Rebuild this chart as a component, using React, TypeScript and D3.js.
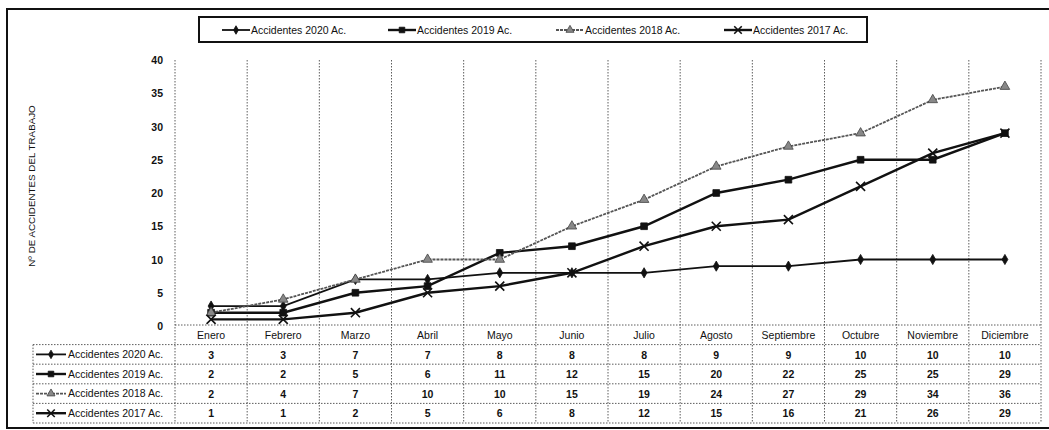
import * as d3 from 'd3';

const months = ['Enero', 'Febrero', 'Marzo', 'Abril', 'Mayo', 'Junio', 'Julio', 'Agosto', 'Septiembre', 'Octubre', 'Noviembre', 'Diciembre'];
const seriesNames = ['Accidentes 2020 Ac.', 'Accidentes 2019 Ac.', 'Accidentes 2018 Ac.', 'Accidentes 2017 Ac.'];
const acc2020 = [3, 3, 7, 7, 8, 8, 8, 9, 9, 10, 10, 10];
const acc2019 = [2, 2, 5, 6, 11, 12, 15, 20, 22, 25, 25, 29];
const acc2018 = [2, 4, 7, 10, 10, 15, 19, 24, 27, 29, 34, 36];
const acc2017 = [1, 1, 2, 5, 6, 8, 12, 15, 16, 21, 26, 29];
const yTicks = [0, 5, 10, 15, 20, 25, 30, 35, 40];

const W = 1049;
const H = 430;
const PLOT = { left: 175, right: 1041, top: 60, bottom: 325 };
const TABLE = { left: 33, rowH: 19.6 };
const FONT = '"Liberation Sans", Arial, sans-serif';

type Style = {
  name: string;
  values: number[];
  stroke: string;
  width: number;
  dash?: string;
  symbol: d3.SymbolType;
  size: number;
  fill: string;
  markStroke: string;
};

const series: Style[] = [
  { name: seriesNames[0], values: acc2020, stroke: '#111', width: 1.8, symbol: d3.symbolDiamond, size: 30, fill: '#111', markStroke: '#111' },
  { name: seriesNames[1], values: acc2019, stroke: '#111', width: 2.4, symbol: d3.symbolSquare, size: 45, fill: '#111', markStroke: '#111' },
  { name: seriesNames[2], values: acc2018, stroke: '#555', width: 1.8, dash: '3,1', symbol: d3.symbolTriangle, size: 40, fill: '#888', markStroke: '#444' },
  { name: seriesNames[3], values: acc2017, stroke: '#111', width: 2.4, symbol: d3.symbolTimes, size: 55, fill: 'none', markStroke: '#111' },
];

const Marker = ({ s, x, y }: { s: Style; x: number; y: number }) => (
  <path
    d={d3.symbol(s.symbol, s.size)() || ''}
    transform={`translate(${x},${y})`}
    fill={s.fill}
    stroke={s.markStroke}
    strokeWidth={s.symbol === d3.symbolTimes ? 1.6 : 0.8}
  />
);

const LegendKey = ({ s, x, y, len }: { s: Style; x: number; y: number; len: number }) => (
  <g>
    <line x1={x} x2={x + len} y1={y} y2={y} stroke={s.stroke} strokeWidth={s.width} strokeDasharray={s.dash} />
    <Marker s={{ ...s, size: s.size * 0.7 }} x={x + len / 2} y={y} />
  </g>
);

export default function App() {
  const x = d3.scaleBand<string>().domain(months).range([PLOT.left, PLOT.right]);
  const y = d3.scaleLinear().domain([0, 40]).range([PLOT.bottom + 1, PLOT.top]);
  const cx = (m: string) => (x(m) || 0) + x.bandwidth() / 2;
  const line = d3
    .line<number>()
    .x((_, i) => cx(months[i]))
    .y((d) => y(d));

  const rowTop = (i: number) => PLOT.bottom + TABLE.rowH * i;
  const tableBottom = rowTop(5);
  const bounds = months.map((m) => x(m) || 0).concat([PLOT.right]);
  const legendX = [222, 388, 556, 724];

  return (
    <svg width={W} height={H} style={{ position: 'absolute', left: 0, top: 0, background: '#fff' }} fontFamily={FONT}>
      <rect x={0} y={0} width={W} height={H} fill="#fff" />
      {/* outer frame */}
      <rect x={7} y={9} width={W + 10} height={419} fill="none" stroke="#111" strokeWidth={2} />

      {/* legend */}
      <rect x={199} y={17} width={668} height={25} fill="#fff" stroke="#111" strokeWidth={2} />
      {series.map((s, i) => (
        <g key={s.name}>
          <LegendKey s={s} x={legendX[i]} y={30} len={28} />
          <text x={legendX[i] + 29} y={33.5} fontSize={10.5} fill="#111">{s.name}</text>
        </g>
      ))}

      {/* y title */}
      <text transform={`translate(35,186) rotate(-90)`} textAnchor="middle" fontSize={9.8} fill="#111">
        Nº DE ACCIDENTES DEL TRABAJO
      </text>

      {/* y ticks */}
      {yTicks.map((t) => (
        <text key={t} x={163} y={y(t) + 4} textAnchor="end" fontSize={10.5} fontWeight="bold" fill="#111">
          {t}
        </text>
      ))}

      {/* vertical grid through plot and table */}
      {bounds.map((b, i) => (
        <line key={i} x1={b} x2={b} y1={PLOT.top} y2={tableBottom} stroke="#333" strokeWidth={0.8} strokeDasharray="1.5,1.5" />
      ))}
      {/* horizontal table lines */}
      <line x1={PLOT.left} x2={PLOT.right} y1={rowTop(0)} y2={rowTop(0)} stroke="#333" strokeWidth={0.8} strokeDasharray="1.5,1.5" />
      {[1, 2, 3, 4, 5].map((r) => (
        <line key={r} x1={TABLE.left} x2={PLOT.right} y1={rowTop(r)} y2={rowTop(r)} stroke="#333" strokeWidth={0.8} strokeDasharray="1.5,1.5" />
      ))}
      <line x1={TABLE.left} x2={TABLE.left} y1={rowTop(1)} y2={tableBottom} stroke="#333" strokeWidth={0.8} strokeDasharray="1.5,1.5" />

      {/* month header */}
      {months.map((m) => (
        <text key={m} x={cx(m)} y={rowTop(0) + 14} textAnchor="middle" fontSize={10.5} fill="#111">
          {m}
        </text>
      ))}

      {/* table rows */}
      {series.map((s, r) => (
        <g key={s.name}>
          <LegendKey s={s} x={TABLE.left + 3} y={rowTop(r + 1) + TABLE.rowH / 2} len={30} />
          <text x={TABLE.left + 35} y={rowTop(r + 1) + 13.5} fontSize={10.5} fill="#111">{s.name}</text>
          {s.values.map((v, i) => (
            <text key={i} x={cx(months[i])} y={rowTop(r + 1) + 14} textAnchor="middle" fontSize={10.5} fontWeight="bold" fill="#111">
              {v}
            </text>
          ))}
        </g>
      ))}

      {/* series lines */}
      {series.map((s) => (
        <g key={s.name}>
          <path d={line(s.values) || ''} fill="none" stroke={s.stroke} strokeWidth={s.width} strokeDasharray={s.dash} />
          {s.values.map((v, i) => (
            <Marker key={i} s={s} x={cx(months[i])} y={y(v)} />
          ))}
        </g>
      ))}
    </svg>
  );
}
